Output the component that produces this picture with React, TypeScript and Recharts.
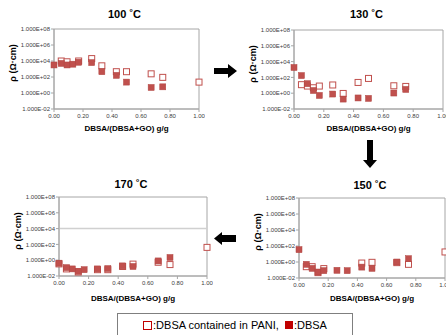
import React from "react";
import {
  ScatterChart,
  Scatter,
  XAxis,
  YAxis,
  ReferenceArea,
  ReferenceLine,
} from "recharts";

// DBSA/(DBSA+GO) g/g
const ratio = [0, 0.05, 0.09, 0.13, 0.17, 0.26, 0.33, 0.43, 0.5, 0.67, 0.75, 1.0];

// resistivity, ohm.cm (null = no point)
const dbsa100 = [3200, 5000, 3200, 4000, 7000, 6300, 460, 160, 23, 4.9, 5.9, null];
const pani100 = [null, 10000, 8000, null, 10000, 20000, 2500, 460, 460, 250, 90, 23];

const dbsa130 = [1800, 170, 16, 2.2, 0.52, 0.78, 0.18, 0.25, 0.22, 1.05, 3.0, null];
const pani130 = [null, 12, 8, 4.9, 8, 11, 0.93, 23, 74, 8.7, 7.2, null];

const dbsa150 = [35, 0.51, 0.16, 0.056, 0.083, 0.091, 0.083, 0.23, 0.16, 1.0, 2.6, null];
const pani150 = [null, 0.26, 0.26, 0.047, 0.15, null, null, 0.74, 0.91, 0.83, 0.51, 18];

const dbsa170 = [0.42, 0.115, 0.079, 0.04, 0.063, 0.079, 0.087, 0.19, 0.16, 0.81, 2.2, null];
const pani170 = [0.34, 0.079, null, 0.032, null, 0.063, 0.063, 0.16, 0.32, 0.55, 0.28, 42];

const yTicks = [0.01, 1, 100, 1e4, 1e6, 1e8];
const xTicks = [0, 0.2, 0.4, 0.6, 0.8, 1.0];

const RED = "#c0504d";
const AXIS = "#a6a6a6";
const TICK = "#404040";
const FONT = "'Liberation Sans', Arial, sans-serif";

const toPoints = (vals: (number | null)[]) =>
  ratio
    .map((x, i) => ({ x, y: vals[i] }))
    .filter((p) => p.y !== null);

const fmtExp = (v: number) => {
  const e = Math.round(Math.log10(v));
  return `1.000E${e < 0 ? "-" : "+"}${String(Math.abs(e)).padStart(2, "0")}`;
};

const openSquare = (p: any) => (
  <rect x={p.cx - 3} y={p.cy - 3} width={6} height={6} fill="#fff" stroke={RED} strokeWidth={1} />
);
const filledSquare = (p: any) => (
  <rect x={p.cx - 3} y={p.cy - 3} width={6} height={6} fill={RED} stroke="#b04541" strokeWidth={0.5} />
);

type Plot = { x: number; y: number; w: number; h: number };

const YW = 34;
const ML = 6;
const MT = 8;
const MR = 6;
const XH = 14;
const MB = 2;

function Panel(props: {
  title: string;
  plot: Plot;
  dbsa: (number | null)[];
  pani: (number | null)[];
  titleY: number;
  xLabelY: number;
  grid?: boolean;
}) {
  const { plot } = props;
  const cx = plot.x + plot.w / 2 - 2;
  return (
    <>
      <div
        style={{
          position: "absolute",
          left: plot.x - YW - ML,
          top: plot.y - MT,
        }}
      >
        <ScatterChart
          width={ML + YW + plot.w + MR}
          height={MT + plot.h + XH + MB}
          margin={{ top: MT, right: MR, bottom: MB, left: ML }}
        >
          <XAxis
            type="number"
            dataKey="x"
            domain={[0, 1]}
            ticks={xTicks}
            interval={0}
            tickFormatter={(v: number) => v.toFixed(2)}
            tick={{ fontSize: 6, fill: TICK }}
            tickSize={3}
            tickMargin={2}
            height={XH}
            stroke={AXIS}
          />
          <YAxis
            type="number"
            dataKey="y"
            scale="log"
            domain={[0.01, 1e8]}
            ticks={yTicks}
            interval={0}
            allowDataOverflow
            tickFormatter={fmtExp}
            tick={{ fontSize: 6, fill: TICK }}
            tickSize={3}
            tickMargin={1}
            width={YW}
            stroke={AXIS}
          />
          {props.grid && <ReferenceLine y={1e4} stroke="#d0d0d0" strokeWidth={1.5} />}
          <ReferenceArea x1={0} x2={1} y1={0.01} y2={1e8} fill="none" stroke={AXIS} />
          <Scatter data={toPoints(props.pani)} shape={openSquare} isAnimationActive={false} />
          <Scatter data={toPoints(props.dbsa)} shape={filledSquare} isAnimationActive={false} />
        </ScatterChart>
      </div>
      <div
        style={{
          position: "absolute",
          left: cx,
          top: props.titleY,
          transform: "translate(-50%, -50%)",
          fontSize: 11,
          fontWeight: "bold",
          whiteSpace: "nowrap",
        }}
      >
        {props.title}
      </div>
      <div
        style={{
          position: "absolute",
          left: plot.x + plot.w / 2,
          top: props.xLabelY,
          transform: "translate(-50%, -50%)",
          fontSize: 8,
          fontWeight: "bold",
          whiteSpace: "nowrap",
        }}
      >
        DBSA/(DBSA+GO) g/g
      </div>
      <div
        style={{
          position: "absolute",
          left: plot.x - 41,
          top: plot.y + plot.h / 2 - 6,
          transform: "translate(-50%, -50%) rotate(-90deg)",
          fontSize: 9,
          fontWeight: "bold",
          whiteSpace: "nowrap",
        }}
      >
        ρ (Ω·cm)
      </div>
    </>
  );
}

export default function App() {
  return (
    <div
      style={{
        position: "absolute",
        left: 0,
        top: 0,
        width: 446,
        height: 335,
        overflow: "hidden",
        background: "#fff",
        fontFamily: FONT,
        color: "#000",
      }}
    >
      <Panel title="100 ˚C" plot={{ x: 54, y: 29, w: 145, h: 80 }} dbsa={dbsa100} pani={pani100} titleY={14} xLabelY={128} />
      <Panel title="130 ˚C" plot={{ x: 294, y: 30, w: 149, h: 79 }} dbsa={dbsa130} pani={pani130} titleY={14} xLabelY={128} />
      <Panel title="170 ˚C" plot={{ x: 59, y: 197, w: 148, h: 79 }} dbsa={dbsa170} pani={pani170} titleY={184} xLabelY={298} grid />
      <Panel title="150 ˚C" plot={{ x: 299, y: 198, w: 146, h: 80 }} dbsa={dbsa150} pani={pani150} titleY={185} xLabelY={298} />

      <svg width={446} height={335} style={{ position: "absolute", left: 0, top: 0, pointerEvents: "none" }}>
        <polygon points="214,68 228,68 228,64 237,71 228,78 228,74 214,74" fill="#000" />
        <polygon points="367,140 373,140 373,160 377,160 370,168 363,160 367,160" fill="#000" />
        <polygon points="236,235 222,235 222,232 214,238.5 222,245 222,242 236,242" fill="#000" />
      </svg>

      <div
        style={{
          position: "absolute",
          left: 117,
          top: 313,
          width: 236,
          height: 26,
          border: "1px solid #7f7f7f",
          background: "#fff",
          display: "flex",
          alignItems: "flex-start",
          justifyContent: "center",
          paddingTop: 5,
          boxSizing: "border-box",
          fontSize: 11,
          whiteSpace: "pre",
        }}
      >
        <span style={{ display: "inline-block", width: 7, height: 7, border: "1px solid #c00000", marginTop: 2, marginRight: 1 }} />
        <span>:DBSA contained in PANI,  </span>
        <span style={{ display: "inline-block", width: 8, height: 8, background: "#c00000", marginTop: 2, marginRight: 1 }} />
        <span>:DBSA</span>
      </div>
    </div>
  );
}
